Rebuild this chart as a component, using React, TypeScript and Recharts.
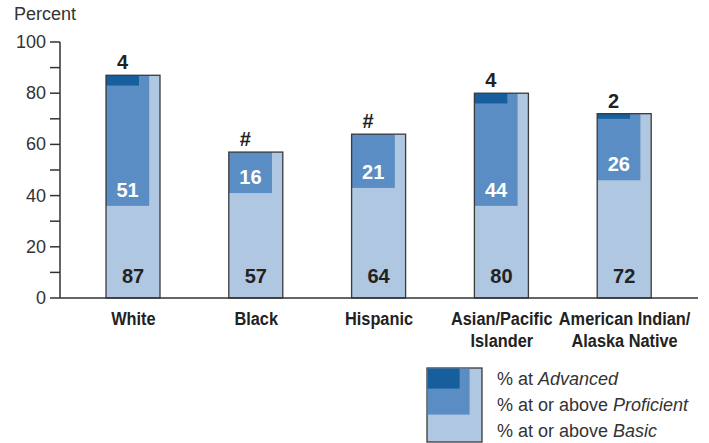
import { BarChart, Bar, XAxis, YAxis, LabelList } from "recharts";

const groups = ["White", "Black", "Hispanic", "Asian/Pacific\nIslander", "American Indian/\nAlaska Native"];
const atBasic = [87, 57, 64, 80, 72];
const atProficient = [51, 16, 21, 44, 26];
const atAdvanced = [4, 0, 0, 4, 2];
const yTicks = [0, 10, 20, 30, 40, 50, 60, 70, 80, 90, 100];
const legendItems = [
  { lead: "% at ", level: "Advanced" },
  { lead: "% at or above ", level: "Proficient" },
  { lead: "% at or above ", level: "Basic" },
];

const LIGHT = "#afc7e0";
const MID = "#5a8dc4";
const DARK = "#165f9c";
const INK = "#222";
const EDGE = "#3a3a3a";
const SANS = "'Liberation Sans', Arial, Helvetica, sans-serif";

const PROF_W = 0.8;
const ADV_W = 0.61;

const chartData = groups.map((g, i) => ({
  group: g,
  basic: atBasic[i],
  prof: [atBasic[i] - atProficient[i], atBasic[i]],
  adv: [atBasic[i] - atAdvanced[i], atBasic[i]],
  profLabel: atProficient[i],
  advLabel: atAdvanced[i] === 0 ? "#" : String(atAdvanced[i]),
}));

const ProfShape = ({ x, y, width, height }: any) => (
  <rect x={x} y={y} width={width * PROF_W} height={Math.max(height, 0)} fill={MID} />
);

const AdvShape = ({ x, y, width, height }: any) =>
  height > 0 ? <rect x={x} y={y} width={width * ADV_W} height={height} fill={DARK} /> : null;

const OutlineShape = ({ x, y, width, height }: any) => (
  <rect x={x} y={y} width={width} height={height} fill="none" stroke={EDGE} strokeWidth={1.3} />
);

const BasicLabel = ({ x, y, width, height, value }: any) => (
  <text x={x + width / 2} y={y + height - 15} textAnchor="middle" fill={INK}
    style={{ fontFamily: SANS, fontWeight: 700, fontSize: 20 }}>
    {value}
  </text>
);

const ProfLabel = ({ x, y, width, height, value }: any) => (
  <text x={x + (width * PROF_W) / 2} y={y + height - 9} textAnchor="middle" fill="#fff"
    style={{ fontFamily: SANS, fontWeight: 700, fontSize: 20 }}>
    {value}
  </text>
);

const AdvLabel = ({ x, y, width, value }: any) => (
  <text x={x + (width * ADV_W) / 2} y={y - 6} textAnchor="middle" fill={INK}
    style={{ fontFamily: SANS, fontWeight: 700, fontSize: 20 }}>
    {value}
  </text>
);

const YTick = ({ x, y, payload }: any) =>
  payload.value % 20 === 0 ? (
    <text x={x} y={y} dy={6} textAnchor="end" fill="#333" style={{ fontFamily: SANS, fontSize: 18 }}>
      {payload.value}
    </text>
  ) : null;

// the category names are set in a condensed bold face; squeeze Liberation Sans to match
const XTick = ({ x, y, payload }: any) => {
  const lines = String(payload.value).split("\n");
  return (
    <g transform={`translate(${x},${y}) scale(0.86,1)`}>
      <text x={0} y={0} textAnchor="middle" fill={INK}
        style={{ fontFamily: SANS, fontWeight: 700, fontSize: 19 }}>
        {lines.map((l, i) => (
          <tspan key={i} x={0} dy={i === 0 ? 19 : 22}>
            {l}
          </tspan>
        ))}
      </text>
    </g>
  );
};

function LegendBox() {
  return (
    <div style={{ position: "absolute", left: 426, top: 367, width: 283, height: 76 }}>
      <svg width={283} height={76}>
        <rect x={1} y={1} width={55} height={74} fill={LIGHT} stroke={EDGE} strokeWidth={1.3} />
        <rect x={1.6} y={1.6} width={42} height={46} fill={MID} />
        <rect x={1.6} y={1.6} width={32} height={20} fill={DARK} />
        {legendItems.map((it, i) => (
          <text key={i} x={71} y={18 + i * 26} fill="#333" style={{ fontFamily: SANS, fontSize: 18 }}>
            {it.lead}
            <tspan fontStyle="italic">{it.level}</tspan>
          </text>
        ))}
      </svg>
    </div>
  );
}

export default function App() {
  return (
    <div style={{ position: "absolute", left: 0, top: 0, width: 709, height: 443, background: "#fff" }}>
      <div style={{ position: "absolute", left: 14, top: 4, fontFamily: SANS, fontSize: 18, color: "#333" }}>
        Percent
      </div>
      <BarChart
        width={709}
        height={443}
        data={chartData}
        margin={{ top: 42, right: 11, bottom: 0, left: 0 }}
        barSize={54}
        barGap={-54}
      >
        <XAxis
          dataKey="group"
          height={145}
          padding={{ left: 12, right: 12 }}
          tickLine={false}
          axisLine={{ stroke: "#333", strokeWidth: 1.5 }}
          tick={<XTick />}
          interval={0}
        />
        <YAxis
          width={60}
          domain={[0, 100]}
          ticks={yTicks}
          interval={0}
          tickSize={10}
          tickMargin={4}
          tickLine={{ stroke: "#333", strokeWidth: 1.5 }}
          axisLine={{ stroke: "#333", strokeWidth: 1.5 }}
          tick={<YTick />}
        />
        <Bar dataKey="basic" fill={LIGHT} isAnimationActive={false}>
          <LabelList dataKey="basic" content={<BasicLabel />} />
        </Bar>
        <Bar dataKey="prof" shape={<ProfShape />} isAnimationActive={false}>
          <LabelList dataKey="profLabel" content={<ProfLabel />} />
        </Bar>
        <Bar dataKey="adv" shape={<AdvShape />} isAnimationActive={false}>
          <LabelList dataKey="advLabel" content={<AdvLabel />} />
        </Bar>
        <Bar dataKey="basic" shape={<OutlineShape />} isAnimationActive={false} />
      </BarChart>
      <LegendBox />
    </div>
  );
}
